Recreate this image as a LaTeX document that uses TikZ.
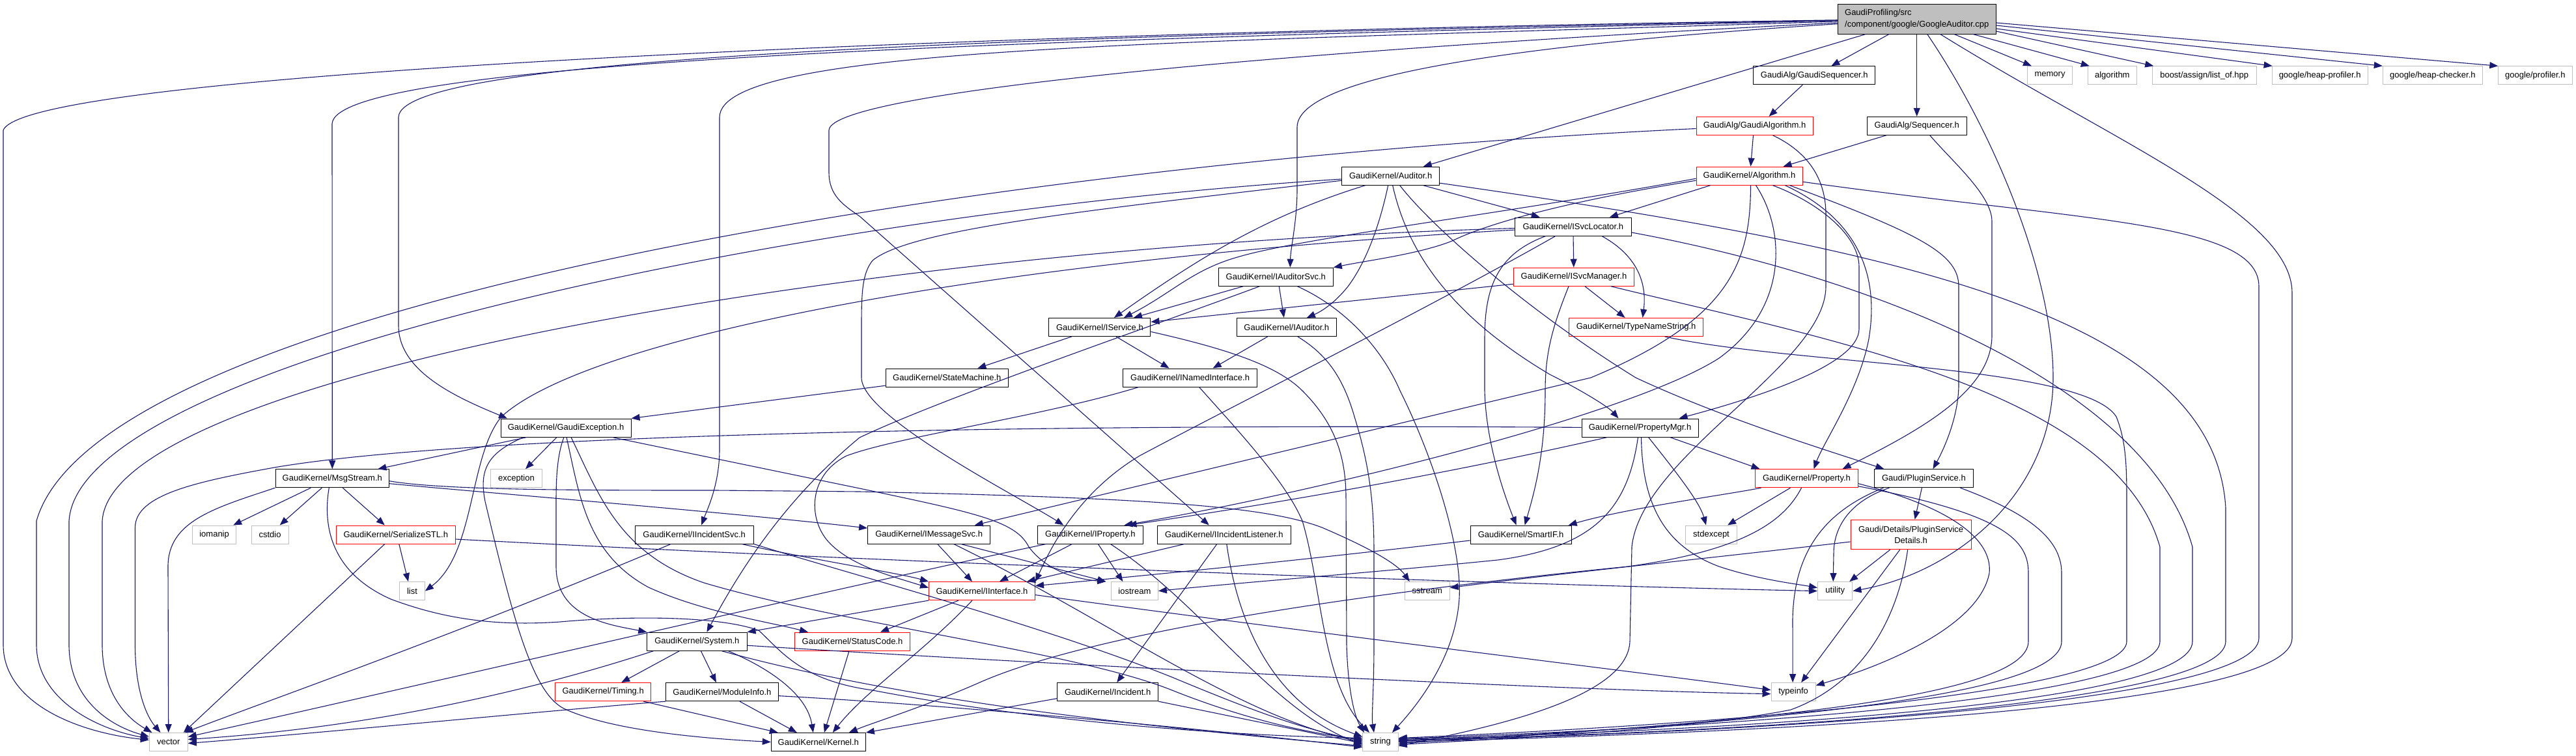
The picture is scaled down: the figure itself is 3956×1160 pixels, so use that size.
\documentclass[tikz,border=0pt]{standalone}
\usepackage{fontspec}
\setmainfont{Liberation Sans}
\usetikzlibrary{arrows.meta}
\definecolor{edgeblue}{HTML}{191970}
\definecolor{graybd}{HTML}{BFBFBF}
\newcommand\gfont{\fontsize{13}{16}\selectfont}
\begin{document}
\begin{tikzpicture}[x=1pt,y=-1pt,
  box/.style={draw=black, fill=white, line width=1pt, minimum height=28pt, inner sep=0pt, font=\gfont},
  rbox/.style={box, draw=red},
  gbox/.style={box, draw=graybd},
  e/.style={draw=edgeblue, line width=1.1pt, -{Triangle[length=13pt,width=10pt]}}]
\useasboundingbox[fill=white] (0,0) rectangle (3956,1160);
% ---------------- nodes ----------------
\node[box, fill=graybd, minimum width=243pt, minimum height=46pt, align=left, font={\fontsize{13}{17.4}\selectfont}] (root) at (2943.7,29) {GaudiProfiling/src\\/component/google/GoogleAuditor.cpp};
\node[box, minimum width=187pt] (gseq) at (2786.3,115.8) {GaudiAlg/GaudiSequencer.h};
\node[gbox, minimum width=69pt] (memory) at (3148,115.8) {memory};
\node[gbox, minimum width=74.5pt] (algorithm) at (3243.8,115.8) {algorithm};
\node[gbox, minimum width=160pt] (listof) at (3385.2,115.8) {boost/assign/list\_of.hpp};
\node[gbox, minimum width=147pt] (heapprof) at (3562.6,115.8) {google/heap-profiler.h};
\node[gbox, minimum width=153.6pt] (heapchk) at (3735.8,115.8) {google/heap-checker.h};
\node[gbox, minimum width=114.6pt] (profiler) at (3893.3,115.8) {google/profiler.h};
\node[rbox, minimum width=179pt] (galg) at (2694.5,193.3) {GaudiAlg/GaudiAlgorithm.h};
\node[box, minimum width=152.8pt] (seq) at (2943.7,193.3) {GaudiAlg/Sequencer.h};
\node[rbox, minimum width=163pt] (algo) at (2686.5,270.2) {GaudiKernel/Algorithm.h};
\node[box, minimum width=150pt] (auditor) at (2135.7,270.2) {GaudiKernel/Auditor.h};
\node[box, minimum width=179pt] (isvcloc) at (2415.8,348) {GaudiKernel/ISvcLocator.h};
\node[box, minimum width=176pt] (iauditorsvc) at (1959.3,425.2) {GaudiKernel/IAuditorSvc.h};
\node[rbox, minimum width=185.6pt] (isvcmgr) at (2417,425.2) {GaudiKernel/ISvcManager.h};
\node[box, minimum width=156pt] (iservice) at (1688.9,502.4) {GaudiKernel/IService.h};
\node[box, minimum width=153pt] (iauditor) at (1975.8,502.4) {GaudiKernel/IAuditor.h};
\node[rbox, minimum width=206.7pt] (typename) at (2512.6,502.4) {GaudiKernel/TypeNameString.h};
\node[box, minimum width=188.5pt] (statemachine) at (1454.3,580) {GaudiKernel/StateMachine.h};
\node[box, minimum width=205.4pt] (inamed) at (1827.6,580) {GaudiKernel/INamedInterface.h};
\node[box, minimum width=200pt] (gaudiexc) at (869,657) {GaudiKernel/GaudiException.h};
\node[box, minimum width=179pt] (propmgr) at (2518.5,657) {GaudiKernel/PropertyMgr.h};
\node[box, minimum width=174.6pt] (msgstream) at (510.3,734.7) {GaudiKernel/MsgStream.h};
\node[gbox, minimum width=79.2pt] (exception) at (793,734.7) {exception};
\node[rbox, minimum width=157.8pt] (property) at (2774.5,734.7) {GaudiKernel/Property.h};
\node[box, minimum width=151.6pt] (pluginsvc) at (2954.4,734.7) {Gaudi/PluginService.h};
\node[gbox, minimum width=66.5pt] (iomanip) at (329.1,821) {iomanip};
\node[gbox, minimum width=57.2pt] (cstdio) at (414.6,821) {cstdio};
\node[rbox, minimum width=182.7pt] (serialize) at (607.8,821) {GaudiKernel/SerializeSTL.h};
\node[box, minimum width=182pt] (iincsvc) at (1066.2,821) {GaudiKernel/IIncidentSvc.h};
\node[box, minimum width=188.2pt] (imsgsvc) at (1426.7,821) {GaudiKernel/IMessageSvc.h};
\node[box, minimum width=161.6pt] (iproperty) at (1674.4,821) {GaudiKernel/IProperty.h};
\node[box, minimum width=204.5pt] (iinclist) at (1879.8,821) {GaudiKernel/IIncidentListener.h};
\node[box, minimum width=155pt] (smartif) at (2335.6,821) {GaudiKernel/SmartIF.h};
\node[gbox, minimum width=78.8pt] (stdexcept) at (2628,821) {stdexcept};
\node[rbox, minimum width=185.2pt, minimum height=45.5pt, align=center, font={\fontsize{13}{16.7}\selectfont}] (psdetails) at (2934.6,821) {Gaudi/Details/PluginService\\Details.h};
\node[gbox, minimum width=38.8pt] (list) at (633,907.6) {list};
\node[rbox, minimum width=163pt] (iinterface) at (1508,907.6) {GaudiKernel/IInterface.h};
\node[gbox, minimum width=72pt] (iostream) at (1742.4,907.6) {iostream};
\node[gbox, minimum width=69pt] (sstream) at (2191.7,907.6) {sstream};
\node[gbox, minimum width=53.5pt] (utility) at (2818.2,907.6) {utility};
\node[box, minimum width=153.2pt] (system) at (1070.4,985.2) {GaudiKernel/System.h};
\node[rbox, minimum width=177.7pt] (statuscode) at (1309,985.2) {GaudiKernel/StatusCode.h};
\node[rbox, minimum width=147pt] (timing) at (926.2,1062.6) {GaudiKernel/Timing.h};
\node[box, minimum width=172.2pt] (moduleinfo) at (1108.9,1062.6) {GaudiKernel/ModuleInfo.h};
\node[box, minimum width=154.5pt] (incident) at (1701.2,1062.6) {GaudiKernel/Incident.h};
\node[gbox, minimum width=68.2pt] (typeinfo) at (2754.1,1062.6) {typeinfo};
\node[gbox, minimum width=59pt] (vector) at (258.8,1139.5) {vector};
\node[box, minimum width=145pt] (kernel) at (1256.8,1139.5) {GaudiKernel/Kernel.h};
\node[gbox, minimum width=54.3pt] (string) at (2120,1139.5) {string};
% ---------------- edges: root ----------------
\draw[e] (root) .. controls (1500,50) and (40,110) .. (5,200) -- (5,990) .. controls (5,1080) and (120,1125) .. (vector);
\draw[e] (root) .. controls (1500,62) and (515,95) .. (510,190) -- (msgstream);
\draw[e] (root) .. controls (1500,56) and (614,88) .. (612,180) -- (612,500) .. controls (612,570) and (700,610) .. ([xshift=-90pt]gaudiexc.north);
\draw[e] (root) .. controls (1800,66) and (1106,70) .. (1105,180) -- (1105,690) .. controls (1105,745) and (1085,785) .. ([xshift=11pt]iincsvc.north);
\draw[e] (root) .. controls (2000,76) and (1275,140) .. (1273,200) -- (1273,265) .. controls (1273,300) and (1295,315) .. (1320,332) -- ([xshift=-23pt]iinclist.north);
\draw[e] (root) .. controls (2300,70) and (1993,120) .. (1992,195) -- (1992,290) .. controls (1992,340) and (1982,380) .. ([xshift=22pt]iauditorsvc.north);
\draw[e] (root) -- ([xshift=50pt]auditor.north);
\draw[e] (root) -- ([xshift=26pt]gseq.north);
\draw[e] (root) -- (seq);
\draw[e] (root) -- ([xshift=-28pt]memory.north);
\draw[e] (root) -- ([xshift=-35pt]algorithm.north);
\draw[e] ([yshift=-19pt]root.east) -- ([xshift=-78pt]listof.north);
\draw[e] ([yshift=-15pt]root.east) -- ([xshift=-73pt]heapprof.north);
\draw[e] ([yshift=-10pt]root.east) -- ([xshift=-77pt]heapchk.north);
\draw[e] ([yshift=-6pt]root.east) -- ([xshift=-57pt]profiler.north);
\draw[e] ([xshift=16pt]root.south) .. controls (3060,200) and (3153,420) .. (3153,580) .. controls (3153,760) and (3000,880) .. (utility.east);
\draw[e] ([xshift=36pt]root.south) .. controls (3250,220) and (3520,330) .. (3520,450) -- (3520,980) .. controls (3520,1090) and (2700,1125) .. (string.east);
% ---------------- GaudiAlg ----------------
\draw[e] ([xshift=-18pt]gseq.south) -- ([xshift=22pt]galg.north);
\draw[e] ([xshift=-2pt]galg.south) -- ([xshift=2pt]algo.north);
\draw[e] (galg) .. controls (1500,250) and (150,470) .. (56,800) -- (56,990) .. controls (56,1075) and (150,1120) .. (vector);
\draw[e] ([xshift=28pt]galg.south) .. controls (2790,240) and (2804,290) .. (2804,330) -- (2804,440) .. controls (2804,560) and (2520,700) .. (2506,840) -- (2503,985) .. controls (2500,1070) and (2300,1115) .. ([yshift=-6pt]string.east);
\draw[e] ([xshift=-47pt]seq.south) -- ([xshift=52pt]algo.north);
\draw[e] ([xshift=20pt]seq.south) .. controls (3000,250) and (3059,300) .. (3059,340) -- (3059,515) .. controls (3059,600) and (2950,660) .. ([xshift=55pt]property.north);
% ---------------- Algorithm.h ----------------
\draw[e] ([xshift=-60pt]algo.south) -- ([xshift=56pt]isvcloc.north);
\draw[e] ([yshift=-7pt]algo.west) .. controls (2400,310) and (2280,345) .. (2230,370) .. controls (2180,390) and (2100,400) .. (iauditorsvc.north east);
\draw[e] ([yshift=-4pt]algo.west) .. controls (2300,330) and (2000,365) .. (1900,395) .. controls (1830,415) and (1800,450) .. ([xshift=37pt]iservice.north);
\draw[e] ([xshift=36pt]algo.south) .. controls (2790,310) and (2855,360) .. (2855,410) -- (2855,505) .. controls (2855,560) and (2700,610) .. ([xshift=60pt]propmgr.north);
\draw[e] ([xshift=55pt]algo.south) .. controls (2860,340) and (2885,430) .. (2870,520) .. controls (2855,600) and (2800,680) .. ([xshift=11pt]property.north);
\draw[e] ([xshift=62pt]algo.south) .. controls (2950,360) and (3008,390) .. (3008,440) -- (3008,590) .. controls (3008,640) and (2985,690) .. ([xshift=14pt]pluginsvc.north);
\draw[e] ([yshift=-9pt]algo.east) .. controls (3200,340) and (3469,340) .. (3469,440) -- (3469,980) .. controls (3469,1080) and (2700,1125) .. ([yshift=2pt]string.east);
\draw[e] ([xshift=2pt]algo.south) .. controls (2688,400) and (2660,490) .. (2443,580) -- ([xshift=70pt]imsgsvc.north);
\draw[e] ([xshift=10pt]algo.south) .. controls (2740,350) and (2750,470) .. (2640,550) .. controls (2500,640) and (2000,760) .. ([xshift=52pt]iproperty.north);
% ---------------- Auditor.h ----------------
\draw[e] (auditor) .. controls (1200,330) and (120,560) .. (106,800) -- (106,990) .. controls (106,1075) and (170,1115) .. (vector);
\draw[e] ([xshift=-39pt]auditor.south) .. controls (1950,330) and (1850,390) .. ([xshift=22pt]iservice.north);
\draw[e] ([xshift=-4pt]auditor.south) .. controls (2120,340) and (2100,400) .. (2070,440) .. controls (2050,465) and (2030,478) .. ([xshift=31pt]iauditor.north);
\draw[e] ([yshift=-7pt]auditor.west) .. controls (1700,320) and (1400,350) .. (1340,400) .. controls (1324,420) and (1323,450) .. (1323,500) -- (1323,580) .. controls (1323,640) and (1560,760) .. ([xshift=-41pt]iproperty.north);
\draw[e] ([xshift=50pt]auditor.south) -- ([xshift=-51pt]isvcloc.north);
\draw[e] ([xshift=3pt]auditor.south) .. controls (2160,380) and (2220,480) .. (2380,575) .. controls (2430,600) and (2470,625) .. ([xshift=-33pt]propmgr.north);
\draw[e] ([xshift=14pt]auditor.south) .. controls (2200,350) and (2350,480) .. (2512,580) .. controls (2640,640) and (2800,690) .. ([xshift=-61pt]pluginsvc.north);
\draw[e] ([yshift=-11pt]auditor.east) .. controls (2900,380) and (3400,480) .. (3418,780) -- (3418,985) .. controls (3418,1080) and (2700,1125) .. ([yshift=3pt]string.east);
% ---------------- ISvcLocator / ISvcManager ----------------
\draw[e] (isvcloc) .. controls (1300,380) and (170,580) .. (157,800) -- (157,990) .. controls (157,1060) and (190,1100) .. (vector);
\draw[e] (isvcloc) .. controls (1500,400) and (900,520) .. (770,640) .. controls (720,700) and (730,850) .. (list.east);
\draw[e] (isvcloc) -- (isvcmgr);
\draw[e] ([xshift=44pt]isvcloc.south) .. controls (2510,390) and (2530,430) .. ([xshift=10pt]typename.north);
\draw[e] ([xshift=-42pt]isvcloc.south) .. controls (2300,390) and (2280,440) .. (2280,520) -- (2280,600) .. controls (2282,680) and (2310,760) .. ([xshift=-7pt]smartif.north);
\draw[e] ([xshift=-27pt]isvcloc.south) .. controls (2200,470) and (1900,620) .. (1750,700) .. controls (1650,760) and (1610,850) .. (iinterface.north east);
\draw[e] ([yshift=-9pt]isvcloc.east) .. controls (2900,430) and (3300,600) .. (3367,840) -- (3367,985) .. controls (3367,1080) and (2700,1120) .. ([yshift=4pt]string.east);
\draw[e] ([yshift=-11pt]isvcmgr.west) -- ([yshift=8pt]iservice.east);
\draw[e] ([xshift=17pt]isvcmgr.south) -- ([xshift=-17pt]typename.north);
\draw[e] ([xshift=-8pt]isvcmgr.south) .. controls (2385,500) and (2373,540) .. (2373,600) .. controls (2373,700) and (2355,760) .. ([xshift=6pt]smartif.north);
\draw[e] ([xshift=57pt]isvcmgr.south) .. controls (2800,520) and (3250,600) .. (3317,840) -- (3317,985) .. controls (3317,1070) and (2700,1115) .. ([yshift=5pt]string.east);
\draw[e] ([xshift=44pt]typename.south) .. controls (2750,560) and (3200,560) .. (3250,640) .. controls (3266,680) and (3266,720) .. (3266,780) -- (3266,985) .. controls (3266,1060) and (2700,1110) .. ([yshift=6pt]string.east);
% ---------------- IAuditorSvc / IAuditor / IService ----------------
\draw[e] ([xshift=-50pt]iauditorsvc.south) -- ([xshift=52pt]iservice.north);
\draw[e] ([xshift=5pt]iauditorsvc.south) -- ([xshift=-4pt]iauditor.north);
\draw[e] ([xshift=-25pt]iauditorsvc.south) .. controls (1800,490) and (1450,610) .. (1320,672) .. controls (1220,755) and (1150,850) .. ([xshift=15pt]system.north);
\draw[e] ([xshift=33pt]iauditorsvc.south) .. controls (2060,470) and (2120,530) .. (2150,600) .. controls (2200,700) and (2250,850) .. (2240,930) .. controls (2230,1020) and (2170,1090) .. ([xshift=18pt]string.north);
\draw[e] ([xshift=-29pt]iauditor.south) -- ([xshift=35pt]inamed.north);
\draw[e] ([xshift=17pt]iauditor.south) .. controls (2030,540) and (2060,570) .. (2080,640) .. controls (2105,720) and (2110,780) .. (2110,850) -- (2110,990) .. controls (2110,1060) and (2106,1100) .. ([xshift=-10pt]string.north);
\draw[e] ([xshift=-43pt]iservice.south) -- ([xshift=47pt]statemachine.north);
\draw[e] ([xshift=25pt]iservice.south) -- ([xshift=-32pt]inamed.north);
\draw[e] ([yshift=-7pt]iservice.east) .. controls (1880,535) and (1960,560) .. (2000,600) .. controls (2050,650) and (2066,700) .. (2067,760) -- (2068,990) .. controls (2070,1060) and (2080,1100) .. ([xshift=-25pt]string.north);
\draw[e] (statemachine) -- (gaudiexc.north east);
\draw[e] ([xshift=-79pt]inamed.south) .. controls (1600,640) and (1380,670) .. (1300,700) .. controls (1240,730) and (1240,800) .. (1275,835) .. controls (1310,870) and (1370,885) .. ([yshift=5pt]iinterface.west);
\draw[e] ([xshift=14pt]inamed.south) .. controls (1900,660) and (1975,740) .. (2000,800) .. controls (2030,900) and (2030,1050) .. ([xshift=-17pt]string.north);
% ---------------- GaudiException ----------------
\draw[e] ([xshift=-60pt]gaudiexc.south) -- ([xshift=70pt]msgstream.north);
\draw[e] ([xshift=-14pt]gaudiexc.south) -- ([xshift=14pt]exception.north);
\draw[e] ([xshift=-65pt]gaudiexc.south) .. controls (750,695) and (735,720) .. (745,770) .. controls (790,960) and (820,1070) .. (870,1090) .. controls (950,1125) and (1100,1135) .. (kernel.west);
\draw[e] ([xshift=-3pt]gaudiexc.south) .. controls (855,700) and (854,740) .. (854,770) -- (854,870) .. controls (854,950) and (940,960) .. (system.north west);
\draw[e] ([xshift=1pt]gaudiexc.south) .. controls (890,760) and (900,850) .. (996,902) .. controls (1080,940) and (1180,955) .. ([xshift=-68pt]statuscode.north);
\draw[e] ([xshift=8pt]gaudiexc.south) .. controls (920,760) and (950,850) .. (1081,895) .. controls (1300,960) and (1650,1000) .. (1800,1060) .. controls (1900,1100) and (2000,1125) .. ([yshift=4pt]string.west);
\draw[e] ([xshift=71pt]gaudiexc.south) -- (1320,750) .. controls (1500,788) and (1560,800) .. (1580,840) .. controls (1610,880) and (1660,890) .. ([xshift=-44pt]iostream.north);
% ---------------- MsgStream / SerializeSTL ----------------
\draw[e] (msgstream.south west) .. controls (330,780) and (258,800) .. (258,870) -- (vector);
\draw[e] ([xshift=-33pt]msgstream.south) -- ([xshift=29pt]iomanip.north);
\draw[e] ([xshift=-16pt]msgstream.south) -- ([xshift=15pt]cstdio.north);
\draw[e] ([xshift=16pt]msgstream.south) -- ([xshift=-17pt]serialize.north);
\draw[e] ([xshift=-5pt]msgstream.south) .. controls (495,810) and (510,880) .. (600,920) .. controls (680,950) and (760,962) .. (860,955) .. controls (960,946) and (1100,945) .. (1165,968) .. controls (1200,1000) and (1230,1045) .. (1340,1060) .. controls (1600,1110) and (1900,1130) .. ([yshift=6pt]string.west);
\draw[e] ([yshift=-8pt]msgstream.east) .. controls (750,757) and (1100,785) .. ([yshift=10pt]imsgsvc.west);
\draw[e] ([yshift=-4pt]msgstream.east) .. controls (680,753) and (900,753) .. (1100,753) -- (1320,755) .. controls (1800,765) and (1950,780) .. (2030,810) .. controls (2100,840) and (2145,865) .. ([xshift=-27pt]sstream.north);
\draw[e] ([xshift=-17pt]serialize.south) -- ([xshift=23pt]vector.north);
\draw[e] ([xshift=5pt]serialize.south) -- ([xshift=-6pt]list.north);
\draw[e] ([yshift=-7pt]serialize.east) .. controls (1300,860) and (2200,895) .. (utility.west);
% ---------------- PropertyMgr ----------------
\draw[e] (propmgr) .. controls (1500,650) and (700,670) .. (421,718) .. controls (300,740) and (208,760) .. (207.5,810) -- (207.5,990) .. controls (207.5,1060) and (225,1100) .. (vector);
\draw[e] ([xshift=-50pt]propmgr.south) .. controls (2300,710) and (2050,760) .. ([xshift=58pt]iproperty.north);
\draw[e] ([xshift=46pt]propmgr.south) -- ([xshift=-72pt]property.north);
\draw[e] ([xshift=13pt]propmgr.south) .. controls (2570,720) and (2610,770) .. ([xshift=-8pt]stdexcept.north);
\draw[e] ([xshift=-3pt]propmgr.south) .. controls (2500,780) and (2450,840) .. (2300,860) .. controls (2100,880) and (1900,895) .. (iostream.east);
\draw[e] ([xshift=2pt]propmgr.south) .. controls (2522,780) and (2560,840) .. (2640,870) .. controls (2700,890) and (2760,897) .. ([yshift=5pt]utility.west);
% ---------------- Property / PluginService ----------------
\draw[e] ([xshift=-25pt]property.south) -- ([xshift=25pt]stdexcept.north);
\draw[e] ([xshift=-70pt]property.south) .. controls (2650,760) and (2500,780) .. ([xshift=73pt]smartif.north);
\draw[e] ([xshift=-8pt]property.south) .. controls (2740,800) and (2680,845) .. (2500,870) .. controls (2200,900) and (1700,960) .. (1500,1050) .. controls (1420,1085) and (1340,1110) .. ([xshift=47pt]kernel.north);
\draw[e] ([yshift=-8pt]property.east) .. controls (3000,780) and (3060,830) .. (3055,880) .. controls (3040,960) and (2900,1020) .. ([yshift=10pt]typeinfo.east);
\draw[e] ([yshift=-12pt]property.east) .. controls (3080,790) and (3115,830) .. (3115,880) -- (3115,985) .. controls (3115,1070) and (2700,1110) .. ([yshift=-2pt]string.east);
\draw[e] ([xshift=-3pt]pluginsvc.south) -- ([xshift=6pt]psdetails.north);
\draw[e] ([xshift=-53pt]pluginsvc.south) .. controls (2840,770) and (2816,810) .. (2816,850) -- ([xshift=-3pt]utility.north);
\draw[e] ([xshift=-62pt]pluginsvc.south) .. controls (2790,790) and (2755,860) .. (2753,950) -- ([xshift=-1pt]typeinfo.north);
\draw[e] ([xshift=56pt]pluginsvc.south) .. controls (3120,790) and (3166,830) .. (3166,880) -- (3166,985) .. controls (3166,1070) and (2700,1112) .. ([yshift=1pt]string.east);
\draw[e] ([xshift=-32pt]psdetails.south) -- ([xshift=22pt]utility.north);
\draw[e] ([xshift=-17pt]psdetails.south) -- ([xshift=12pt]typeinfo.north);
\draw[e] ([xshift=-5pt]psdetails.south) .. controls (2915,950) and (2860,1050) .. (2750,1090) .. controls (2600,1120) and (2300,1135) .. ([yshift=-4pt]string.east);
\draw[e] ([yshift=-11pt]psdetails.west) .. controls (2600,860) and (2400,880) .. ([yshift=5pt]sstream.east);
\draw[e] ([yshift=-9pt]smartif.west) .. controls (2000,860) and (1800,880) .. ([yshift=8pt]iinterface.east);
% ---------------- IIncidentSvc / IIncidentListener / Incident ----------------
\draw[e] ([xshift=-36pt]iincsvc.south) .. controls (700,975) and (400,1080) .. ([xshift=25pt]vector.north);
\draw[e] ([xshift=73pt]iincsvc.south) .. controls (1250,860) and (1380,880) .. (iinterface.north west);
\draw[e] (iincsvc.south east) .. controls (1300,880) and (1600,960) .. (1800,1040) .. controls (1920,1090) and (2000,1120) .. ([yshift=2pt]string.west);
\draw[e] ([xshift=-61pt]iinclist.south) -- ([xshift=69pt]iinterface.north);
\draw[e] ([xshift=-11pt]iinclist.south) -- ([xshift=14pt]incident.north);
\draw[e] ([xshift=4pt]iinclist.south) .. controls (1900,950) and (1950,1080) .. ([yshift=8pt]string.west);
\draw[e] ([yshift=-10pt]incident.west) -- (kernel.north east);
\draw[e] (incident.south east) -- ([yshift=-2pt]string.west);
% ---------------- IMessageSvc / IProperty ----------------
\draw[e] ([xshift=13pt]imsgsvc.south) -- ([xshift=-15pt]iinterface.north);
\draw[e] ([xshift=49pt]imsgsvc.south) -- ([xshift=-44pt]iostream.north);
\draw[e] ([xshift=38pt]imsgsvc.south) .. controls (1700,950) and (1900,1100) .. ([yshift=0pt]string.west);
\draw[e] ([xshift=-28pt]iproperty.south) -- ([xshift=27pt]iinterface.north);
\draw[e] ([xshift=12pt]iproperty.south) -- ([xshift=-18pt]iostream.north);
\draw[e] ([xshift=-68pt]iproperty.south) .. controls (1300,900) and (700,1040) .. ([yshift=8pt]vector.east);
\draw[e] ([xshift=31pt]iproperty.south) .. controls (1850,930) and (1950,1090) .. ([yshift=-4pt]string.west);
% ---------------- IInterface ----------------
\draw[e] ([xshift=-36pt]iinterface.south) -- ([xshift=43pt]statuscode.north);
\draw[e] ([xshift=-15pt]iinterface.south) .. controls (1420,1000) and (1330,1060) .. ([xshift=22pt]kernel.north);
\draw[e] (iinterface.south west) -- (system.north east);
\draw[e] ([yshift=-6pt]iinterface.east) .. controls (2000,970) and (2500,1030) .. ([yshift=3pt]typeinfo.west);
% ---------------- System and below ----------------
\draw[e] ([xshift=-67pt]system.south) .. controls (850,1050) and (600,1115) .. ([yshift=4pt]vector.east);
\draw[e] ([xshift=-27pt]system.south) -- ([xshift=28pt]timing.north);
\draw[e] ([xshift=6pt]system.south) -- ([xshift=-9pt]moduleinfo.north);
\draw[e] ([xshift=48pt]system.south) .. controls (1190,1030) and (1240,1070) .. ([xshift=-8pt]kernel.north);
\draw[e] ([xshift=38pt]system.south) .. controls (1400,1080) and (1800,1120) .. ([yshift=-6pt]string.west);
\draw[e] ([yshift=-6pt]system.east) .. controls (1600,1020) and (2400,1060) .. ([yshift=-3pt]typeinfo.west);
\draw[e] ([xshift=62pt]timing.south) -- ([xshift=-62pt]kernel.north);
\draw[e] (moduleinfo.south west) .. controls (800,1095) and (500,1125) .. ([yshift=-2pt]vector.east);
\draw[e] ([xshift=27pt]moduleinfo.south) -- ([xshift=-33pt]kernel.north);
\draw[e] ([yshift=-6pt]moduleinfo.east) .. controls (1500,1085) and (1900,1125) .. ([yshift=-8pt]string.west);
\draw[e] ([xshift=-5pt]statuscode.south) -- ([xshift=9pt]kernel.north);
\end{tikzpicture}
\end{document}
